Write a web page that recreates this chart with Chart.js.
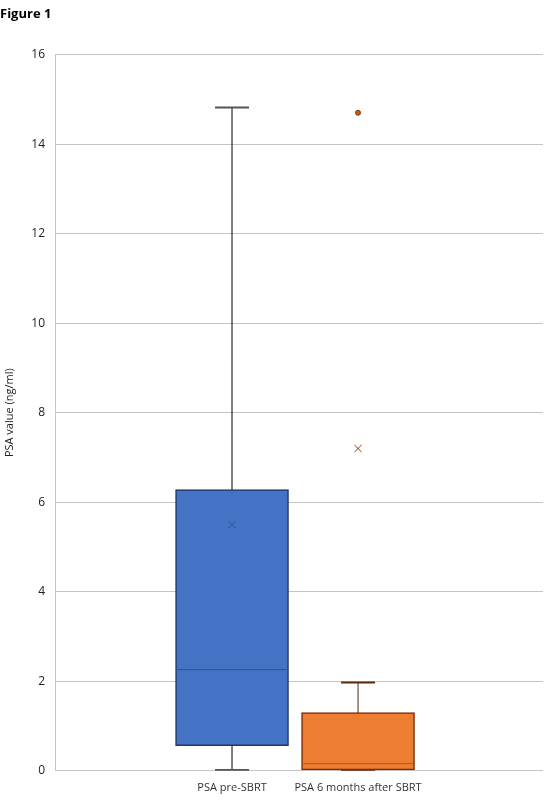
<!DOCTYPE html>
<html>
<head>
<meta charset="utf-8">
<script src="https://cdn.jsdelivr.net/npm/chart.js@4/dist/chart.umd.min.js"></script>
<style>
  html, body { margin: 0; padding: 0; background: #fff; }
  #wrap { width: 556px; height: 806px; position: relative; }
</style>
</head>
<body>
<div id="wrap"><canvas id="boxChart"></canvas></div>
<script>
// -----------------------
// Box plot data (PSA, ng/ml)
// -----------------------
const categories = ['PSA pre-SBRT', 'PSA 6 months after SBRT'];
const whiskerLow = [0.02, 0.02];
const q1 = [0.56, 0.02];
const median = [2.26, 0.16];
const q3 = [6.28, 1.30];
const whiskerHigh = [14.82, 1.97];
const means = [5.5, 7.2];
const outliers = [[], [14.7]];
const yTicks = [0, 2, 4, 6, 8, 10, 12, 14, 16];

const fillColors = ['#4472C4', '#ED7D31'];
const edgeColors = ['#203864', '#7B2A0A'];
const whiskerColors = ['#000000', '#5B2A0E'];
const capColors = ['#555555', '#5B2A0E'];
const medianColors = ['#2F528F', '#AE5A21'];
const meanColors = ['#2F528F', '#843C0C'];

const xPos = categories.map((_, i) => i + 1);

// Whisker lines: one line dataset per box, low -> high
const whiskerSets = categories.map((_, i) => ({
  type: 'line',
  data: [{ x: xPos[i], y: whiskerLow[i] }, { x: xPos[i], y: whiskerHigh[i] }],
  borderColor: whiskerColors[i],
  borderWidth: 1,
  pointRadius: 0,
  order: 4
}));

// Whisker caps
const capSet = {
  type: 'scatter',
  data: categories.flatMap((_, i) => [
    { x: xPos[i], y: whiskerLow[i] },
    { x: xPos[i], y: whiskerHigh[i] }
  ]),
  pointStyle: 'line',
  pointRadius: 17,
  borderWidth: 2,
  borderColor: categories.flatMap((_, i) => [capColors[i], capColors[i]]),
  order: 3
};

// Boxes (Q1 -> Q3)
const boxSet = {
  type: 'bar',
  data: categories.map((_, i) => ({ x: xPos[i], y: [q1[i], q3[i]] })),
  backgroundColor: fillColors,
  borderColor: edgeColors,
  borderWidth: 1.5,
  borderSkipped: false,
  barThickness: 113,
  grouped: false,
  order: 2
};

// Median lines
const medianSet = {
  type: 'scatter',
  data: categories.map((_, i) => ({ x: xPos[i], y: median[i] })),
  pointStyle: 'line',
  pointRadius: 56,
  borderWidth: 1,
  borderColor: medianColors,
  order: 1
};

// Mean markers
const meanSet = {
  type: 'scatter',
  data: categories.map((_, i) => ({ x: xPos[i], y: means[i] })),
  pointStyle: 'crossRot',
  pointRadius: 5,
  borderWidth: 1,
  borderColor: meanColors,
  order: 1
};

// Outliers
const outlierSet = {
  type: 'scatter',
  data: categories.flatMap((_, i) => outliers[i].map(v => ({ x: xPos[i], y: v }))),
  pointStyle: 'circle',
  pointRadius: 2.5,
  borderWidth: 1,
  backgroundColor: '#C55A11',
  borderColor: '#843C0C',
  order: 1
};

new Chart(document.getElementById('boxChart'), {
  type: 'bar',
  data: {
    datasets: [...whiskerSets, capSet, boxSet, medianSet, meanSet, outlierSet]
  },
  options: {
    responsive: true,
    maintainAspectRatio: false,
    animation: false,
    events: [],
    layout: { autoPadding: false, padding: { top: 6, right: 13, bottom: 10, left: 0 } },
    plugins: {
      legend: { display: false },
      tooltip: { enabled: false },
      title: {
        display: true,
        text: 'Figure 1',
        align: 'start',
        color: '#000',
        font: { family: 'Open Sans', size: 13, weight: 'bold' },
        padding: { top: 0, bottom: 33 }
      }
    },
    scales: {
      x: {
        type: 'linear',
        offset: false,
        min: -0.405,
        max: 3.468,
        grid: { display: false, offset: false },
        border: { display: false },
        afterBuildTicks: axis => { axis.ticks = xPos.map(v => ({ value: v })); },
        afterFit: axis => { axis.paddingLeft = 0; axis.paddingRight = 0; },
        ticks: {
          color: '#333',
          font: { family: 'Open Sans', size: 11 },
          maxRotation: 0,
          autoSkip: false,
          padding: 2,
          callback: v => categories[v - 1] ?? ''
        }
      },
      y: {
        min: 0,
        max: 16,
        afterBuildTicks: axis => { axis.ticks = yTicks.map(v => ({ value: v })); },
        afterFit: axis => { axis.width = 55; },
        grid: { color: '#c4c4c4', lineWidth: 1, drawTicks: false },
        border: { color: '#c4c4c4' },
        title: {
          display: true,
          text: 'PSA value (ng/ml)',
          color: '#222',
          font: { family: 'Open Sans', size: 11 },
          padding: { top: 3, bottom: 6 }
        },
        ticks: {
          color: '#222',
          font: { family: 'Open Sans', size: 12 },
          padding: 10
        }
      }
    }
  }
});
</script>
</body>
</html>
